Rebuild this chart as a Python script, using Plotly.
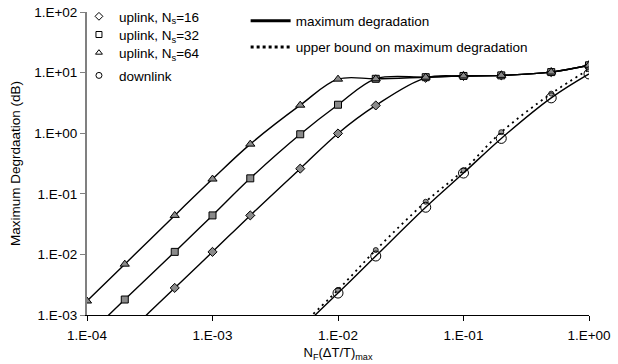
import plotly.graph_objects as go

# ---- data ----
x_up = [1e-4, 2e-4, 5e-4, 1e-3, 2e-3, 5e-3, 1e-2, 2e-2, 5e-2, 1e-1, 2e-1, 5e-1, 1.0]
up_ns64 = [1.7e-3, 6.9e-3, 0.044, 0.175, 0.66, 2.9, 7.8, 7.9, 8.4, 8.8, 9.0, 10.2, 13.2]
up_ns32 = [4.5e-4, 1.8e-3, 0.011, 0.044, 0.18, 0.96, 2.95, 7.9, 8.4, 8.8, 9.0, 10.2, 13.2]
up_ns16 = [1.1e-4, 4.5e-4, 2.8e-3, 0.011, 0.044, 0.26, 0.99, 2.87, 8.2, 8.8, 9.0, 10.2, 13.2]

x_dl = [5e-3, 1e-2, 2e-2, 5e-2, 1e-1, 2e-1, 5e-1, 1.0]
dl_max = [5.8e-4, 2.3e-3, 9.4e-3, 0.06, 0.22, 0.82, 3.83, 9.5]
dl_bound = [6.5e-4, 2.6e-3, 0.0118, 0.074, 0.245, 1.04, 4.5, 11.3]

x_tickvals = [1e-4, 1e-3, 1e-2, 1e-1, 1.0]
x_ticktext = ["1.E-04", "1.E-03", "1.E-02", "1.E-01", "1.E+00"]
y_tickvals = [1e-3, 1e-2, 1e-1, 1.0, 10.0, 100.0]
y_ticktext = ["1.E-03", "1.E-02", "1.E-01", "1.E+00", "1.E+01", "1.E+02"]

marker_legend = ["uplink, N<sub>s</sub>=16", "uplink, N<sub>s</sub>=32",
                 "uplink, N<sub>s</sub>=64", "downlink"]
line_legend = ["maximum degradation", "upper bound on maximum degradation"]

FONT = "Liberation Sans"

fig = go.Figure()

# uplink curves
for ys, sym, sz in [(up_ns16, "diamond", 7), (up_ns32, "square", 7), (up_ns64, "triangle-up", 8)]:
    fig.add_trace(go.Scatter(
        x=x_up, y=ys, mode="lines+markers", showlegend=False,
        line=dict(color="black", width=1.4, shape="spline", smoothing=1.0),
        marker=dict(symbol=sym, size=sz, color="#8a8a8a", line=dict(color="black", width=1)),
    ))

# downlink upper bound (dotted)
fig.add_trace(go.Scatter(
    x=x_dl, y=dl_bound, mode="lines+markers", showlegend=False,
    line=dict(color="black", width=1.8, dash="2px,4px", shape="spline", smoothing=1.0),
    marker=dict(symbol="circle", size=5, color="#9a9a9a", line=dict(color="black", width=0.8)),
))
# downlink max (solid)
fig.add_trace(go.Scatter(
    x=x_dl, y=dl_max, mode="lines+markers", showlegend=False,
    line=dict(color="black", width=1.4, shape="spline", smoothing=1.0),
    marker=dict(symbol="circle-open", size=10, color="black", line=dict(color="black", width=1)),
))

# legend entries (one legend per row so rows can be placed like the reference)
marker_legend_ids = ["legend", "legend3", "legend4", "legend5"]
for name, sym, lid in zip(marker_legend, ["diamond-open", "square-open", "triangle-up-open", "circle-open"],
                          marker_legend_ids):
    fig.add_trace(go.Scatter(
        x=[None], y=[None], mode="markers", name=name, legend=lid,
        marker=dict(symbol=sym, size=6, color="black", line=dict(width=1)),
    ))
line_legend_ids = ["legend2", "legend6"]
for name, dash, lid in zip(line_legend, ["solid", "dot"], line_legend_ids):
    fig.add_trace(go.Scatter(
        x=[None], y=[None], mode="lines", name=name, legend=lid,
        line=dict(color="black", width=3, dash=dash),
    ))

def leg(xp, yp, iw):
    return dict(x=xp, y=yp, xanchor="left", yanchor="middle",
                bgcolor="rgba(0,0,0,0)", font=dict(size=13.5, family=FONT),
                itemwidth=iw)

fig.update_layout(
    width=618, height=364,
    margin=dict(l=87, r=29, t=12, b=49, autoexpand=False),
    paper_bgcolor="white", plot_bgcolor="white",
    font=dict(family=FONT, size=13, color="black"),
    legend=leg(-0.016, 0.985, 30),
    legend3=leg(-0.016, 0.925, 30),
    legend4=leg(-0.016, 0.865, 30),
    legend5=leg(-0.016, 0.790, 30),
    legend2=leg(0.316, 0.970, 40),
    legend6=leg(0.316, 0.884, 40),
    xaxis=dict(
        type="log", range=[-4, 0], automargin=False,
        tickvals=x_tickvals, ticktext=x_ticktext,
        showgrid=False, zeroline=False,
        showline=True, linecolor="black", linewidth=1,
        ticks="outside", ticklen=5, tickcolor="black",
        ticklabelstandoff=3, ticklabeloverflow="allow",
        tickfont=dict(size=13.5, family=FONT),
        title=dict(text="N<sub>F</sub>(ΔT/T)<sub>max</sub>", font=dict(size=13, family=FONT), standoff=5),
    ),
    yaxis=dict(
        type="log", range=[-3, 2], automargin=False,
        tickvals=y_tickvals, ticktext=y_ticktext,
        showgrid=False, zeroline=False,
        showline=True, linecolor="#808080", linewidth=2,
        ticks="outside", ticklen=5, tickcolor="#808080",
        ticklabeloverflow="allow",
        tickfont=dict(size=13.5, family=FONT),
        title=dict(text="Maximum Degrdaation (dB)", font=dict(size=13.5, family=FONT), standoff=10),
    ),
)

fig.write_html("out.html", config={"displayModeBar": False},
               post_script="document.body.style.margin='0';")
